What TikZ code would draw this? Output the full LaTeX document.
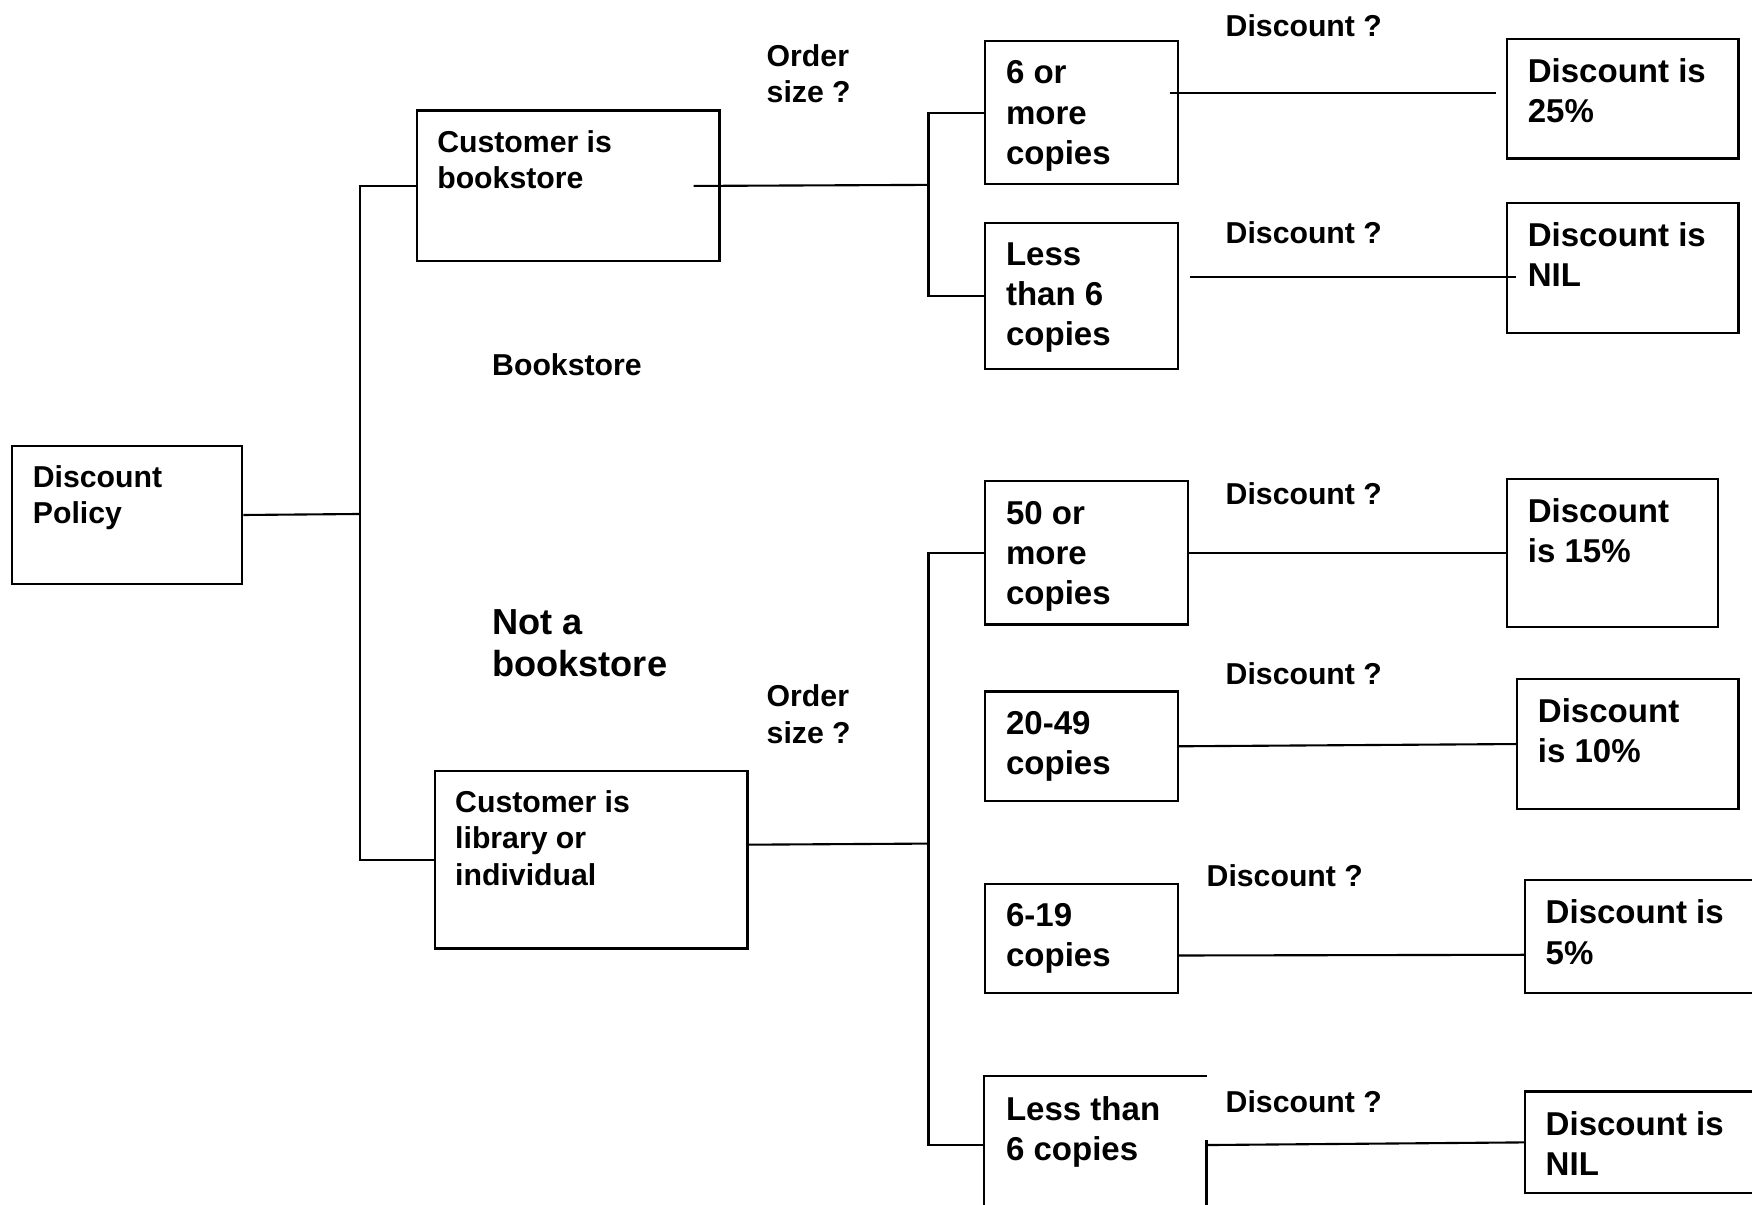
\documentclass[tikz,border=0pt]{standalone}
\usepackage{fontspec}
\setmainfont{Liberation Sans}
\usetikzlibrary{positioning}

\begin{document}
\begin{tikzpicture}[
  box/.style={rectangle, draw=black, line width=0.6pt, anchor=north west, inner sep=0pt},
  smalltxt/.style={font=\fontsize{8.6}{10.4}\selectfont\bfseries},
  bigtxt/.style={font=\fontsize{9.4}{11.4}\selectfont\bfseries},
  inbox/.style={anchor=north west, align=left, inner xsep=0.21cm, inner ysep=0.2cm},
  note/.style={anchor=north west, align=left, inner sep=0pt},
  link/.style={line width=0.6pt}
]
\useasboundingbox (0,0) rectangle (17.52,-12.05);
\clip (0,0) rectangle (17.52,-12.05);

\node[box, minimum width=2.301cm, minimum height=1.385cm,
      label={[inbox, smalltxt]north west:Discount\\Policy}] (dp) at (0.112,-4.447) {};
\node[box, minimum width=3.028cm, minimum height=1.508cm,
      label={[inbox, smalltxt]north west:Customer is\\bookstore}] (cb) at (4.156,-1.095) {};
\node[box, minimum width=3.129cm, minimum height=1.777cm,
      label={[inbox, smalltxt]north west:Customer is\\library or\\individual}] (cl) at (4.335,-7.698) {};

\node[box, minimum width=1.922cm, minimum height=1.430cm,
      label={[inbox, bigtxt]north west:6 or\\more\\copies}] (c6m) at (9.843,-0.402) {};
\node[box, minimum width=1.922cm, minimum height=1.453cm,
      label={[inbox, bigtxt]north west:Less\\than 6\\copies}] (cl6) at (9.843,-2.223) {};
\node[box, minimum width=2.023cm, minimum height=1.431cm,
      label={[inbox, bigtxt]north west:50 or\\more\\copies}] (c50) at (9.843,-4.804) {};
\node[box, minimum width=1.922cm, minimum height=1.095cm,
      label={[inbox, bigtxt]north west:20-49\\copies}] (c20) at (9.843,-6.905) {};
\node[box, minimum width=1.922cm, minimum height=1.095cm,
      label={[inbox, bigtxt]north west:6-19\\copies}] (c6) at (9.843,-8.827) {};
\node[box, draw=none, minimum width=2.201cm, minimum height=1.36cm,
      label={[inbox, bigtxt]north west:Less than\\6 copies}] (cls) at (9.843,-10.76) {};

\node[box, minimum width=2.313cm, minimum height=1.195cm,
      label={[inbox, bigtxt]north west:Discount is\\25\%}] (d25) at (15.061,-0.38) {};
\node[box, minimum width=2.313cm, minimum height=1.296cm,
      label={[inbox, bigtxt]north west:Discount is\\NIL}] (dnil) at (15.061,-2.022) {};
\node[box, minimum width=2.112cm, minimum height=1.475cm,
      label={[inbox, bigtxt]north west:Discount\\is 15\%}] (d15) at (15.061,-4.782) {};
\node[box, minimum width=2.212cm, minimum height=1.296cm,
      label={[inbox, bigtxt]north west:Discount\\is 10\%}] (d10) at (15.162,-6.782) {};
\node[box, minimum width=2.4cm, minimum height=1.129cm,
      label={[inbox, bigtxt]north west:Discount is\\5\%}] (d5) at (15.24,-8.793) {};
\node[box, minimum width=2.4cm, minimum height=1.017cm,
      label={[inbox, bigtxt]north west:Discount is\\NIL}] (dnil2) at (15.24,-10.905) {};

\foreach \x/\y [count=\i] in {12.25/-0.136, 12.25/-2.214, 12.25/-4.818, 12.25/-6.616, 12.06/-8.639, 12.25/-10.896}
  \node[note, smalltxt] (q\i) at (\x,\y) {Discount ?};

\node[note, smalltxt] (os1) at (7.66,-0.438) {Order\\size ?};
\node[note, smalltxt] (os2) at (7.66,-6.84)  {Order\\size ?};
\node[note, smalltxt] (bs) at (4.915,-3.532) {Bookstore};
\node[note, font=\fontsize{10.3}{11.8}\selectfont\bfseries] (nb) at (4.915,-6.093) {Not a\\bookstore};

\coordinate (j0) at (3.598,-5.14);
\coordinate (j1) at (9.285,-1.849);
\coordinate (j2) at (9.285,-8.436);

\draw[link] (dp.east) -- (j0);
\draw[link] (cb.west) -| (j0) |- (cl.west);
\draw[link] ([xshift=-0.27cm]cb.east) -- (j1);
\draw[link] ([yshift=0.15cm]cl.east) -- (j2);
\draw[link] (c6m.west) -| (j1) |- (cl6.west);
\draw[link] (c50.west) -| (j2) |- (cls.west);

\draw[link] ([xshift=-0.09cm,yshift=0.2cm]c6m.east) -- ([xshift=-0.1cm,yshift=0.2cm]c6m.east -| d25.west);
\draw[link] ([xshift=0.11cm,yshift=0.19cm]cl6.east) -- ([xshift=0.1cm,yshift=0.19cm]cl6.east -| dnil.west);
\draw[link] ([yshift=-0.17cm]c6.east) -- ([yshift=-0.18cm]d5.west);
\foreach \a/\b in {c50/d15, c20/d10, cls/dnil2}
  \draw[link] (\a.east) -- (\b.west);

\draw[link] ([yshift=-0.64cm]cls.north east) -- (cls.south east) -- (cls.south west)
  -- (cls.north west) -- (cls.north east);

\end{tikzpicture}
\end{document}
